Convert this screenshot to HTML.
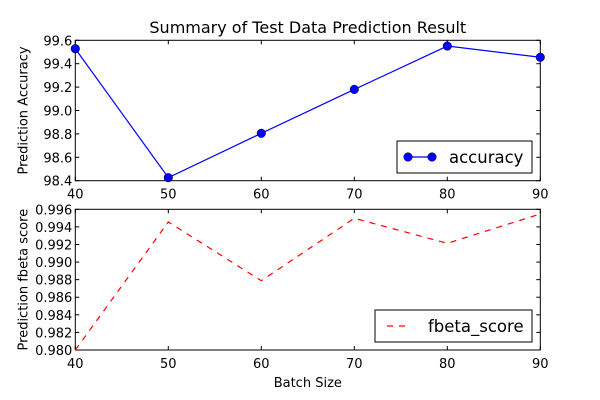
<!DOCTYPE html>
<html><head><meta charset="utf-8"><style>body{margin:0;background:#fff}svg{display:block;font-family:"DejaVu Sans","Liberation Sans",sans-serif}</style></head>
<body>
<svg id="c" width="600" height="400"></svg>
<script>
const batchSizes=[40,50,60,70,80,90];
const accuracy=[99.528,98.426,98.805,99.18,99.551,99.455];
const fbeta=[0.980,0.99456,0.98788,0.99498,0.99213,0.99547];
const xTicks=[40,50,60,70,80,90];
const accTicks=[98.4,98.6,98.8,99.0,99.2,99.4,99.6];
const fbTicks=[0.980,0.982,0.984,0.986,0.988,0.990,0.992,0.994,0.996];
const NS="http://www.w3.org/2000/svg";
const svg=document.getElementById('c');
function mk(t,a,p){const e=document.createElementNS(NS,t);for(const k in a)e.setAttribute(k,a[k]);(p||svg).appendChild(e);return e;}
const L=75.3,R=540.3;
const xs=v=>L+(v-40)/50*(R-L);
function panel(name,top,bot,ymin,ymax,yt,dec,ylabel){
  const ys=v=>bot-(v-ymin)/(ymax-ymin)*(bot-top);
  const g=mk('g',{});
  
  
  mk('rect',{x:L,y:top,width:R-L,height:bot-top,fill:'none',stroke:'#000','stroke-width':1},g);
  xTicks.forEach(t=>{const x=xs(t);
    mk('line',{x1:x,x2:x,y1:bot,y2:bot-4,stroke:'#000'},g);
    mk('line',{x1:x,x2:x,y1:top,y2:top+4,stroke:'#000'},g);
    const tx=mk('text',{x:x,y:bot+18,'font-size':13,'text-anchor':'middle'},g);tx.textContent=t;
    
    });
  yt.forEach(t=>{const y=ys(t);
    mk('line',{x1:L,x2:L+4,y1:y,y2:y,stroke:'#000'},g);
    mk('line',{x1:R,x2:R-4,y1:y,y2:y,stroke:'#000'},g);
    const tx=mk('text',{x:L-3,y:y+5,'font-size':13,'text-anchor':'end'},g);tx.textContent=t.toFixed(dec);
    
    });
  const yl=mk('text',{x:0,y:0,'font-size':13,'text-anchor':'middle',transform:`translate(${L-48},${(top+bot)/2}) rotate(-90)`},g);
  yl.textContent=ylabel;
  
  
  return ys;
}
const t=mk('text',{x:(L+R)/2,y:33,'font-size':16,'text-anchor':'middle'});t.textContent='Summary of Test Data Prediction Result';


const ys1=panel('accuracy',40.3,180.7,98.4,99.6,accTicks,1,'Prediction Accuracy');
const ys2=panel('fbeta',209.3,350,0.980,0.996,fbTicks,3,'Prediction fbeta score');
const p1=mk('polyline',{points:batchSizes.map((b,i)=>xs(b)+','+ys1(accuracy[i])).join(' '),fill:'none',stroke:'#0000ff','stroke-width':1.2});


batchSizes.forEach((b,i)=>{const c=mk('circle',{cx:xs(b),cy:ys1(accuracy[i]),r:4.3,fill:'#0000ff',stroke:'#000','stroke-width':0.5});
  
  });
const p2=mk('polyline',{points:batchSizes.map((b,i)=>xs(b)+','+ys2(fbeta[i])).join(' '),fill:'none',stroke:'#ff0000','stroke-width':1.2,'stroke-dasharray':'6,6'});


const lg1=mk('g',{});


mk('rect',{x:397,y:141,width:135,height:32,fill:'#fff',stroke:'#000'},lg1);
mk('line',{x1:408,x2:432,y1:157,y2:157,stroke:'#0000ff','stroke-width':1.2},lg1);
mk('circle',{cx:408,cy:157,r:4.3,fill:'#0000ff',stroke:'#000','stroke-width':0.5},lg1);
mk('circle',{cx:432,cy:157,r:4.3,fill:'#0000ff',stroke:'#000','stroke-width':0.5},lg1);
mk('text',{x:449,y:163,'font-size':16.5},lg1).textContent='accuracy';
const lg2=mk('g',{});


mk('rect',{x:375,y:310,width:157,height:32,fill:'#fff',stroke:'#000'},lg2);
mk('line',{x1:387,x2:411,y1:326,y2:326,stroke:'#ff0000','stroke-width':1.2,'stroke-dasharray':'6,6'},lg2);
mk('text',{x:428,y:332,'font-size':16.5},lg2).textContent='fbeta_score';
const xl=mk('text',{x:(L+R)/2,y:387,'font-size':13,'text-anchor':'middle'});xl.textContent='Batch Size';


</script>
</body></html>
